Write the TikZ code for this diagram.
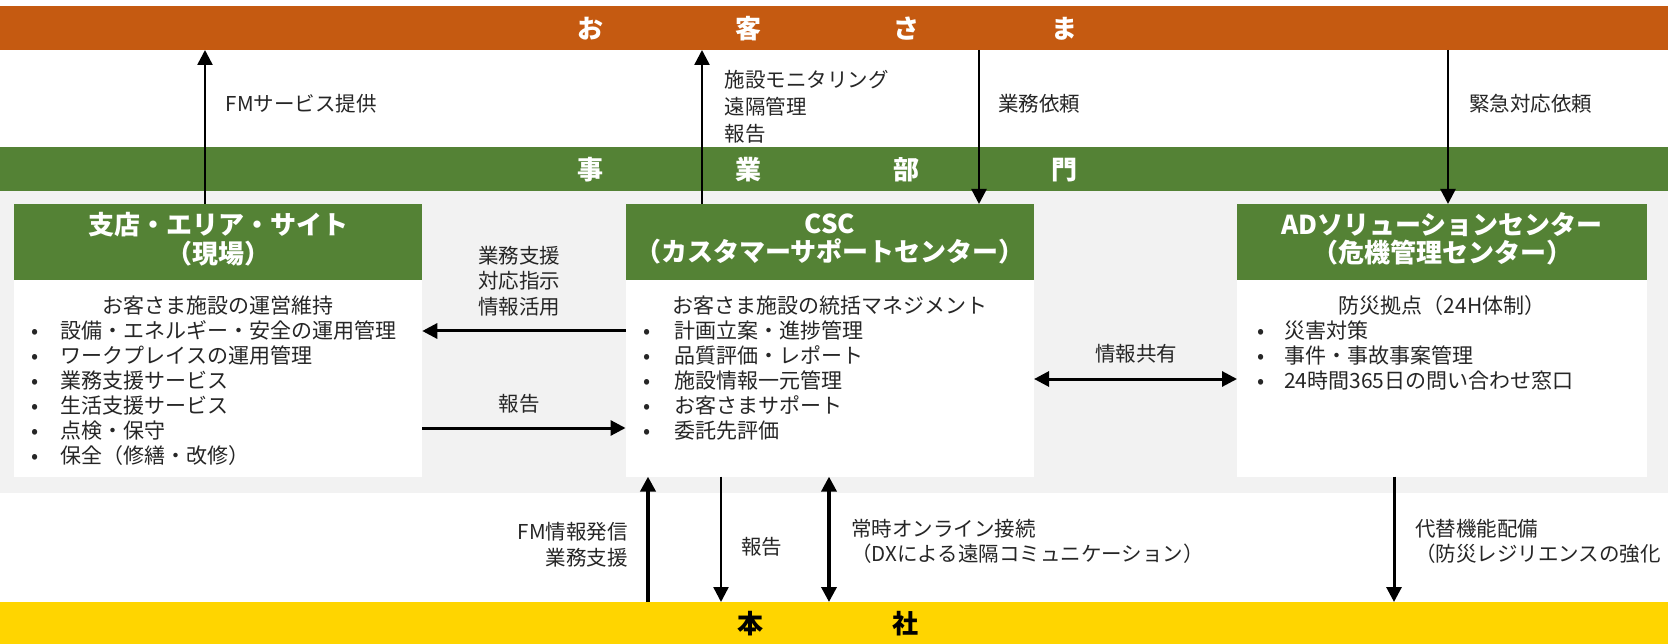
\documentclass[tikz,border=0pt]{standalone}
\usepackage{fontspec}
\setmainfont{Noto Sans CJK JP}
\usetikzlibrary{arrows.meta}
\definecolor{bandorange}{HTML}{C55A11}
\definecolor{bandgreen}{HTML}{548235}
\definecolor{bandyellow}{HTML}{FFD500}
\definecolor{bggray}{HTML}{F2F2F2}
\definecolor{txt}{HTML}{262626}
\begin{document}
\begin{tikzpicture}[x=1pt,y=-1pt,
  band/.style={rectangle,inner sep=0,outer sep=0,minimum width=1668pt},
  bandtxt/.style={inner sep=0,font=\fontsize{26}{30}\selectfont\bfseries},
  headbox/.style={rectangle,fill=bandgreen,inner sep=0,outer sep=0,minimum width=408.5pt,minimum height=76pt},
  headtxt/.style={text=white,inner sep=0,align=center,font=\fontsize{26}{28.5}\selectfont\bfseries},
  bodybox/.style={rectangle,fill=white,inner sep=0,outer sep=0,minimum width=408.5pt,minimum height=272.6pt},
  bodytxt/.style={text=txt,inner sep=0,font=\fontsize{21}{25}\selectfont},
  lbl/.style={text=txt,inner sep=0,font=\fontsize{20.5}{25.5}\selectfont},
  arr/.style={draw=black,line width=2.5pt,-{Triangle[length=15pt,width=15pt]}},
  darr/.style={draw=black,line width=3.5pt,{Triangle[length=15pt,width=15pt]}-{Triangle[length=15pt,width=15pt]}}
]
\useasboundingbox (0,0) rectangle (1668,644);
\clip (0,0) rectangle (1668,644);
\fill[white] (0,0) rectangle (1668,644);
\fill[bggray] (0,191.5) rectangle (1668,492.5);

% bands
\node[band,fill=bandorange,minimum height=43.6pt] (okyaku) at (834,28.2) {};
\node[bandtxt,text=white] (okyakut) at (827.5,28.5) {お\hspace{132.3pt}客\hspace{132.3pt}さ\hspace{132.3pt}ま};
\node[band,fill=bandgreen,minimum height=44.7pt] (jigyo) at (834,169.15) {};
\node[bandtxt,text=white] (jigyot) at (827.5,169.5) {事\hspace{132.3pt}業\hspace{132.3pt}部\hspace{132.3pt}門};
\node[band,fill=bandyellow,minimum height=42pt] (honsha) at (834,623) {};
\node[bandtxt,text=black] (honshat) at (827.5,623.5) {本\hspace{129pt}社};

% boxes
\node[bodybox] (leftbox) at (218,340.3) {};
\node[headbox] (lefthead) at (218,242) {};
\node[headtxt] (leftheadt) at (218,239) {支店・エリア・サイト\\（現場）};
\node[bodybox] (centbox) at (829.8,340.3) {};
\node[headbox] (centhead) at (829.8,242) {};
\node[headtxt] (centheadt) at (829.8,239) {CSC\\（カスタマーサポートセンター）};
\node[bodybox,minimum width=410pt] (rightbox) at (1442,340.3) {};
\node[headbox,minimum width=410pt] (righthead) at (1442,242) {};
\node[headtxt] (rightheadt) at (1442,239) {ADソリューションセンター\\（危機管理センター）};

% body texts
\node[bodytxt,anchor=base] (ltitle) at (218,313) {お客さま施設の運営維持};
\foreach \t [count=\i] in {設備・エネルギー・安全の運用管理,ワークプレイスの運用管理,業務支援サービス,生活支援サービス,点検・保守,保全（修繕・改修）} {
  \node[bodytxt,anchor=base] (lbul\i) at (35,{338.5+(\i-1)*24.9}) {•};
  \node[bodytxt,anchor=base west] (litem\i) at (60.6,{338.5+(\i-1)*24.9}) {\t};
}
\node[bodytxt,anchor=base] (ctitle) at (830,313) {お客さま施設の統括マネジメント};
\foreach \t [count=\i] in {計画立案・進捗管理,品質評価・レポート,施設情報一元管理,お客さまサポート,委託先評価} {
  \node[bodytxt,anchor=base] (cbul\i) at (647,{338.5+(\i-1)*24.9}) {•};
  \node[bodytxt,anchor=base west] (citem\i) at (674.5,{338.5+(\i-1)*24.9}) {\t};
}
\node[bodytxt,anchor=base] (rtitle) at (1442,313) {防災拠点（24H体制）};
\foreach \t [count=\i] in {災害対策,事件・事故事案管理,24時間365日の問い合わせ窓口} {
  \node[bodytxt,anchor=base] (rbul\i) at (1260.6,{338.5+(\i-1)*24.9}) {•};
  \node[bodytxt,anchor=base west] (ritem\i) at (1284,{338.5+(\i-1)*24.9}) {\t};
}

% arrow positions
\coordinate (xa) at (205,0);
\coordinate (xb) at (702,0);
\coordinate (xc) at (979,0);
\coordinate (xd) at (1448,0);
\coordinate (xe) at (648,0);
\coordinate (xf) at (721,0);
\coordinate (xg) at (829,0);
\coordinate (xh) at (1394,0);
\coordinate (ya) at (0,331);
\coordinate (yb) at (0,428);
\coordinate (yc) at (0,379);

% arrows top
\draw[arr] (leftbox.north -| xa) -- (okyaku.south -| xa);
\draw[arr] (centbox.north -| xb) -- (okyaku.south -| xb);
\draw[arr] (okyaku.south -| xc) -- (centbox.north -| xc);
\draw[arr] (okyaku.south -| xd) -- (rightbox.north -| xd);
% arrows middle
\draw[arr,line width=3pt] (centbox.west |- ya) -- (leftbox.east |- ya);
\draw[arr,line width=3pt] (leftbox.east |- yb) -- (centbox.west |- yb);
\draw[darr,line width=3pt] (centbox.east |- yc) -- (rightbox.west |- yc);
% arrows bottom
\draw[arr,line width=4pt] (honsha.north -| xe) -- (centbox.south -| xe);
\draw[arr,line width=2.4pt] (centbox.south -| xf) -- (honsha.north -| xf);
\draw[darr] (centbox.south -| xg) -- (honsha.north -| xg);
\draw[arr,line width=3pt] (rightbox.south -| xh) -- (honsha.north -| xh);

% labels
\node[lbl,anchor=west] (l1) at (225.5,104) {FMサービス提供};
\node[lbl,anchor=west,align=left,font=\fontsize{20.5}{27}\selectfont] (l2) at (724.5,107) {施設モニタリング\\遠隔管理\\報告};
\node[lbl,anchor=west] (l3) at (998,104) {業務依頼};
\node[lbl,anchor=west] (l4) at (1469,104) {緊急対応依頼};
\node[lbl,align=center] (l5) at (519,281) {業務支援\\対応指示\\情報活用};
\node[lbl] (l6) at (519,404) {報告};
\node[lbl] (l7) at (1136,354) {情報共有};
\node[lbl,anchor=east,align=right] (l8) at (628,544.5) {FM情報発信\\業務支援};
\node[lbl,anchor=west] (l9) at (741,547) {報告};
\node[lbl,anchor=west,align=left] (l10) at (851,541.5) {常時オンライン接続\\（DXによる遠隔コミュニケーション）};
\node[lbl,anchor=west,align=left] (l11) at (1415,541.5) {代替機能配備\\（防災レジリエンスの強化};
\end{tikzpicture}
\end{document}
